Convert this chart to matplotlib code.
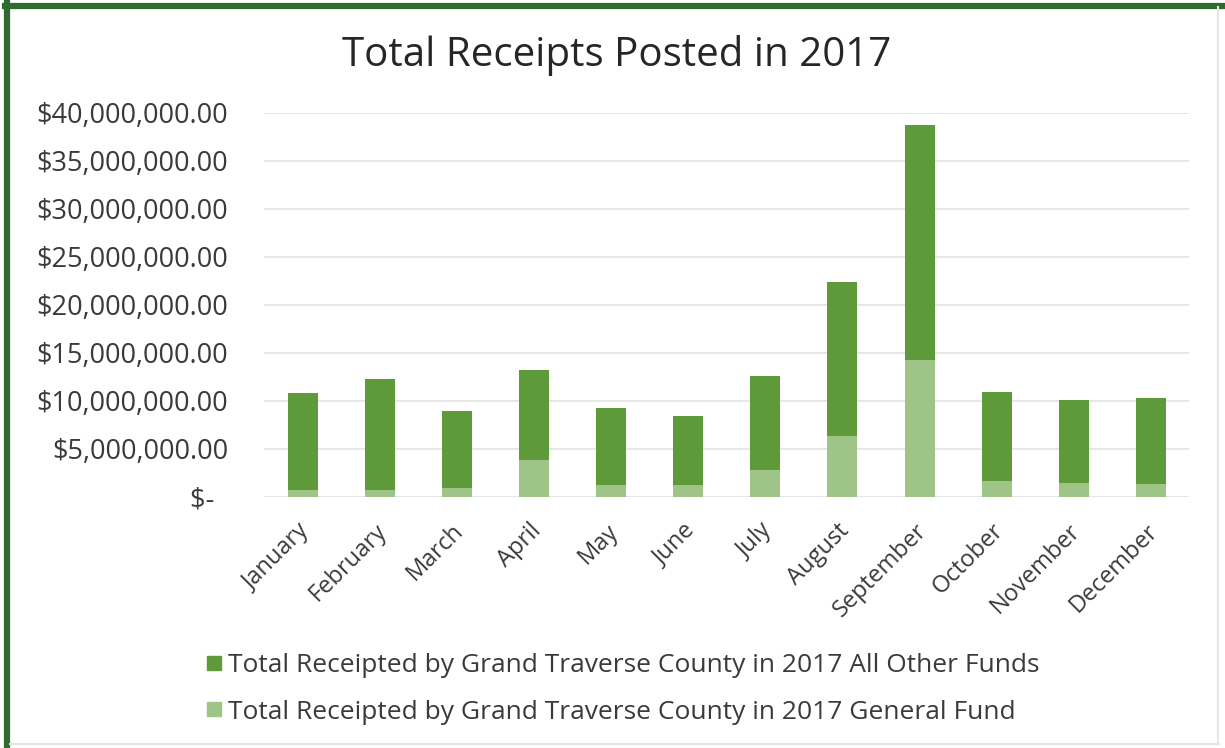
import matplotlib
matplotlib.use("Agg")
import matplotlib.pyplot as plt
import matplotlib.transforms as mtransforms
from matplotlib.lines import Line2D
from matplotlib.ticker import FuncFormatter, MultipleLocator

months = ["January", "February", "March", "April", "May", "June",
          "July", "August", "September", "October", "November", "December"]
general_fund = [0.75e6, 0.70e6, 0.90e6, 3.85e6, 1.25e6, 1.25e6,
                2.80e6, 6.30e6, 14.30e6, 1.65e6, 1.45e6, 1.35e6]
other_funds = [10.05e6, 11.55e6, 8.05e6, 9.35e6, 8.05e6, 7.20e6,
               9.80e6, 16.10e6, 24.45e6, 9.30e6, 8.70e6, 8.95e6]

label_other = "Total Receipted by Grand Traverse County in 2017 All Other Funds"
label_general = "Total Receipted by Grand Traverse County in 2017 General Fund"

dark_green = "#5E9A39"
light_green = "#9FC488"
border_green = "#2F6A31"
text_color = "#3A3A3A"

plt.rcParams["font.family"] = ["Open Sans", "DejaVu Sans"]

fig = plt.figure(figsize=(12.25, 7.48), dpi=100)
ax = fig.add_axes([0.2155, 0.3356, 0.7555, 0.5134])

x = range(len(months))
ax.bar(x, general_fund, width=0.39, color=light_green, zorder=3)
ax.bar(x, other_funds, width=0.39, bottom=general_fund, color=dark_green, zorder=3)

ax.set_xlim(-0.5, len(months) - 0.5)
ax.set_ylim(0, 40e6)
ax.yaxis.set_major_locator(MultipleLocator(5e6))


def money(v, pos):
    if v == 0:
        return "$-  "
    return "${:,.2f}".format(v)


ax.yaxis.set_major_formatter(FuncFormatter(money))
ax.grid(axis="y", color="#E3E3E3", linewidth=1.2, zorder=0)
for s in ax.spines.values():
    s.set_visible(False)
ax.tick_params(axis="both", length=0, colors=text_color)
ax.tick_params(axis="y", labelsize=19.5, pad=26)
ax.set_xticks(list(x))
ax.set_xticklabels(months, rotation=45, ha="right", rotation_mode="anchor",
                   fontsize=17, color=text_color)
ax.tick_params(axis="x", pad=5)
shift = mtransforms.ScaledTranslation(-5 / 100, -15 / 100, fig.dpi_scale_trans)
for lbl in ax.get_xticklabels():
    lbl.set_transform(lbl.get_transform() + shift)

fig.text(0.503, 0.926, "Total Receipts Posted in 2017", ha="center", va="center",
         fontsize=29, color="#262626")

handles = [
    Line2D([], [], marker="s", linestyle="none", markersize=10,
           markerfacecolor=dark_green, markeredgecolor=dark_green),
    Line2D([], [], marker="s", linestyle="none", markersize=10,
           markerfacecolor=light_green, markeredgecolor=light_green),
]
fig.legend(handles, [label_other, label_general], loc="center left",
           bbox_to_anchor=(0.160, 0.079), frameon=False, fontsize=19,
           labelcolor=text_color, handlelength=0.6, handletextpad=0.2,
           labelspacing=0.82, borderaxespad=0)

# Frame around the chart
fig.add_artist(Line2D([0.0061, 0.0061], [0, 0.996], transform=fig.transFigure,
                      color=border_green, linewidth=4.5))
fig.add_artist(Line2D([0.004, 1.0], [0.9925, 0.9925], transform=fig.transFigure,
                      color=border_green, linewidth=4.5))
fig.add_artist(Line2D([0.9945, 0.9945], [0.005, 0.99], transform=fig.transFigure,
                      color="#E6E6E6", linewidth=1.5))
fig.add_artist(Line2D([0.008, 0.995], [0.006, 0.006], transform=fig.transFigure,
                      color="#E6E6E6", linewidth=1.5))

fig.savefig("out.png", dpi=100, facecolor="white")
